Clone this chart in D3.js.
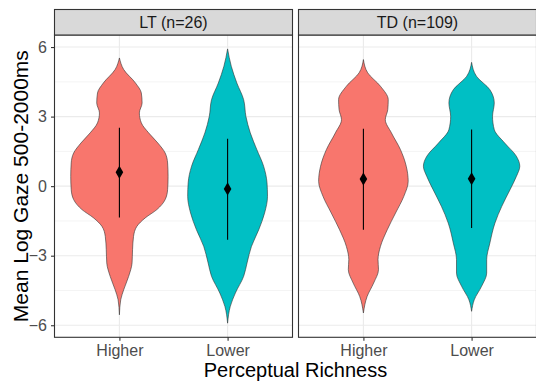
<!DOCTYPE html>
<html>
<head>
<meta charset="utf-8">
<title>Violin</title>
<script src="https://d3js.org/d3.v7.min.js"></script>
<style>
  body { margin: 0; background: white; }
  text { font-family: "Liberation Sans", Arial, sans-serif; }
</style>
</head>
<body>
<svg id="chart" width="536" height="381"></svg>
<script>
// groups (facets) and categories
var groups = ["LT (n=26)", "TD (n=109)"];
var categories = ["Higher", "Lower"];
var yTicks = [-6, -3, 0, 3, 6];
var yMinor = [-4.5, -1.5, 1.5, 4.5];

// density outlines: y value and relative width (1 = widest violin)
var ltHigherY = [5.53, 5.03, 4.45, 4.02, 3.59, 3.16, 2.73, 2.30, 1.86, 1.43, 1.00, 0.42, -0.15, -0.58, -1.01, -1.37, -1.73, -2.17, -2.74, -3.31, -3.89, -4.47, -4.90, -5.55];
var ltHigherW = [0, 0.088, 0.33, 0.45, 0.466, 0.41, 0.45, 0.60, 0.79, 0.94, 0.99, 1.0, 0.99, 0.94, 0.77, 0.53, 0.36, 0.29, 0.27, 0.26, 0.19, 0.088, 0.027, 0];
var ltLowerY = [5.92, 5.17, 4.45, 3.73, 3.01, 2.30, 1.58, 0.86, 0.14, -0.44, -1.16, -1.88, -2.60, -3.31, -3.89, -4.61, -5.19, -5.91];
var ltLowerW = [0, 0.076, 0.19, 0.33, 0.376, 0.466, 0.60, 0.74, 0.81, 0.82, 0.76, 0.64, 0.49, 0.40, 0.33, 0.16, 0.055, 0];
var tdHigherY = [5.46, 4.89, 4.31, 3.73, 3.30, 2.87, 2.30, 1.58, 0.86, 0.21, -0.44, -1.16, -1.88, -2.60, -3.17, -3.60, -4.18, -4.76, -5.47];
var tdHigherW = [0, 0.088, 0.35, 0.51, 0.50, 0.45, 0.575, 0.76, 0.88, 0.92, 0.83, 0.66, 0.49, 0.35, 0.30, 0.31, 0.21, 0.076, 0];
var tdLowerY = [5.34, 4.74, 4.16, 3.59, 3.01, 2.44, 1.86, 1.29, 0.86, 0.42, -0.15, -0.87, -1.59, -2.45, -3.17, -3.75, -4.32, -4.90, -5.40];
var tdLowerW = [0, 0.10, 0.376, 0.466, 0.43, 0.466, 0.68, 0.92, 0.99, 0.92, 0.79, 0.62, 0.48, 0.376, 0.31, 0.31, 0.205, 0.055, 0];

// mean and range of the error bar, per group then category
var means = [[0.60, -0.12], [0.31, 0.32]];
var barLow = [[-1.35, -2.31], [-1.88, -1.81]];
var barHigh = [[2.52, 2.05], [2.48, 2.44]];

var fills = ["#F8766D", "#00BFC4"];

var violins = [
  [{y: ltHigherY, w: ltHigherW}, {y: ltLowerY, w: ltLowerW}],
  [{y: tdHigherY, w: tdHigherW}, {y: tdLowerY, w: tdLowerW}]
];

var svg = d3.select("#chart");

var panelTop = 35, panelBottom = 337.3, stripTop = 9.5;
var panelW = 238, gap = 6, left0 = 54.5;

var y = d3.scaleLinear().domain([-6.52, 6.52]).range([panelBottom, panelTop]);

groups.forEach(function(g, gi) {
  var px = left0 + gi * (panelW + gap);
  var x = d3.scalePoint().domain(categories).range([px, px + panelW]).padding(0.6);
  var unit = x.step();
  var panel = svg.append("g");

  // grid
  panel.selectAll(".minor").data(yMinor).enter().append("line")
    .attr("x1", px).attr("x2", px + panelW)
    .attr("y1", d => y(d)).attr("y2", d => y(d))
    .attr("stroke", "#ebebeb").attr("stroke-width", 0.55);
  panel.selectAll(".major").data(yTicks).enter().append("line")
    .attr("x1", px).attr("x2", px + panelW)
    .attr("y1", d => y(d)).attr("y2", d => y(d))
    .attr("stroke", "#ebebeb").attr("stroke-width", 1.1);
  panel.selectAll(".vmajor").data(categories).enter().append("line")
    .attr("x1", d => x(d)).attr("x2", d => x(d))
    .attr("y1", panelTop).attr("y2", panelBottom)
    .attr("stroke", "#ebebeb").attr("stroke-width", 1.1);

  // violins
  categories.forEach(function(c, ci) {
    var v = violins[gi][ci];
    var pts = v.y.map(function(yy, i) { return {v: yy, w: v.w[i]}; });
    var area = d3.area()
      .y(d => y(d.v))
      .x0(d => x(c) - d.w * 0.45 * unit)
      .x1(d => x(c) + d.w * 0.45 * unit)
      .curve(d3.curveMonotoneY);
    panel.append("path")
      .attr("d", area(pts))
      .attr("fill", fills[ci])
      .attr("stroke", "#333333")
      .attr("stroke-width", 0.6);

    panel.append("line")
      .attr("x1", x(c)).attr("x2", x(c))
      .attr("y1", y(barLow[gi][ci])).attr("y2", y(barHigh[gi][ci]))
      .attr("stroke", "black").attr("stroke-width", 1.1);
    panel.append("path")
      .attr("d", d3.symbol().type(d3.symbolDiamond).size(50)())
      .attr("transform", "translate(" + x(c) + "," + y(means[gi][ci]) + ")")
      .attr("fill", "black");
  });

  // border
  panel.append("rect")
    .attr("x", px).attr("y", panelTop)
    .attr("width", panelW).attr("height", panelBottom - panelTop)
    .attr("fill", "none").attr("stroke", "#333333").attr("stroke-width", 1.1);

  // strip
  panel.append("rect")
    .attr("x", px).attr("y", stripTop)
    .attr("width", panelW).attr("height", panelTop - stripTop)
    .attr("fill", "#d9d9d9").attr("stroke", "#333333").attr("stroke-width", 1.1);
  panel.append("text")
    .attr("x", px + panelW / 2).attr("y", (stripTop + panelTop) / 2 + 5.6)
    .attr("text-anchor", "middle")
    .attr("font-size", "16px").attr("fill", "#1a1a1a")
    .text(g);

  // x axis
  var xAxis = d3.axisBottom(x).tickSize(3.5).tickPadding(3.5);
  var xg = panel.append("g").attr("transform", "translate(0," + panelBottom + ")").call(xAxis);
  xg.select(".domain").remove();
  xg.selectAll(".tick line").attr("stroke", "#333333").attr("stroke-width", 1.1);
  xg.selectAll(".tick text").attr("font-size", "16px").attr("fill", "#4d4d4d")
    .attr("font-family", "Liberation Sans, Arial, sans-serif");
});

// y axis
var yAxis = d3.axisLeft(y).tickValues(yTicks).tickSize(3.5).tickPadding(4);
var yg = svg.append("g").attr("transform", "translate(" + left0 + ",0)").call(yAxis);
yg.select(".domain").remove();
yg.selectAll(".tick line").attr("stroke", "#333333").attr("stroke-width", 1.1);
yg.selectAll(".tick text").attr("font-size", "16px").attr("fill", "#4d4d4d")
  .attr("font-family", "Liberation Sans, Arial, sans-serif");

// titles
svg.append("text")
  .attr("transform", "translate(28," + ((panelTop + panelBottom) / 2) + ") rotate(-90)")
  .attr("text-anchor", "middle")
  .attr("font-size", "21px").attr("fill", "black")
  .text("Mean Log Gaze 500-2000ms");
svg.append("text")
  .attr("x", left0 + (2 * panelW + gap) / 2).attr("y", 377)
  .attr("text-anchor", "middle")
  .attr("font-size", "20px").attr("fill", "black")
  .text("Perceptual Richness");
</script>
</body>
</html>
